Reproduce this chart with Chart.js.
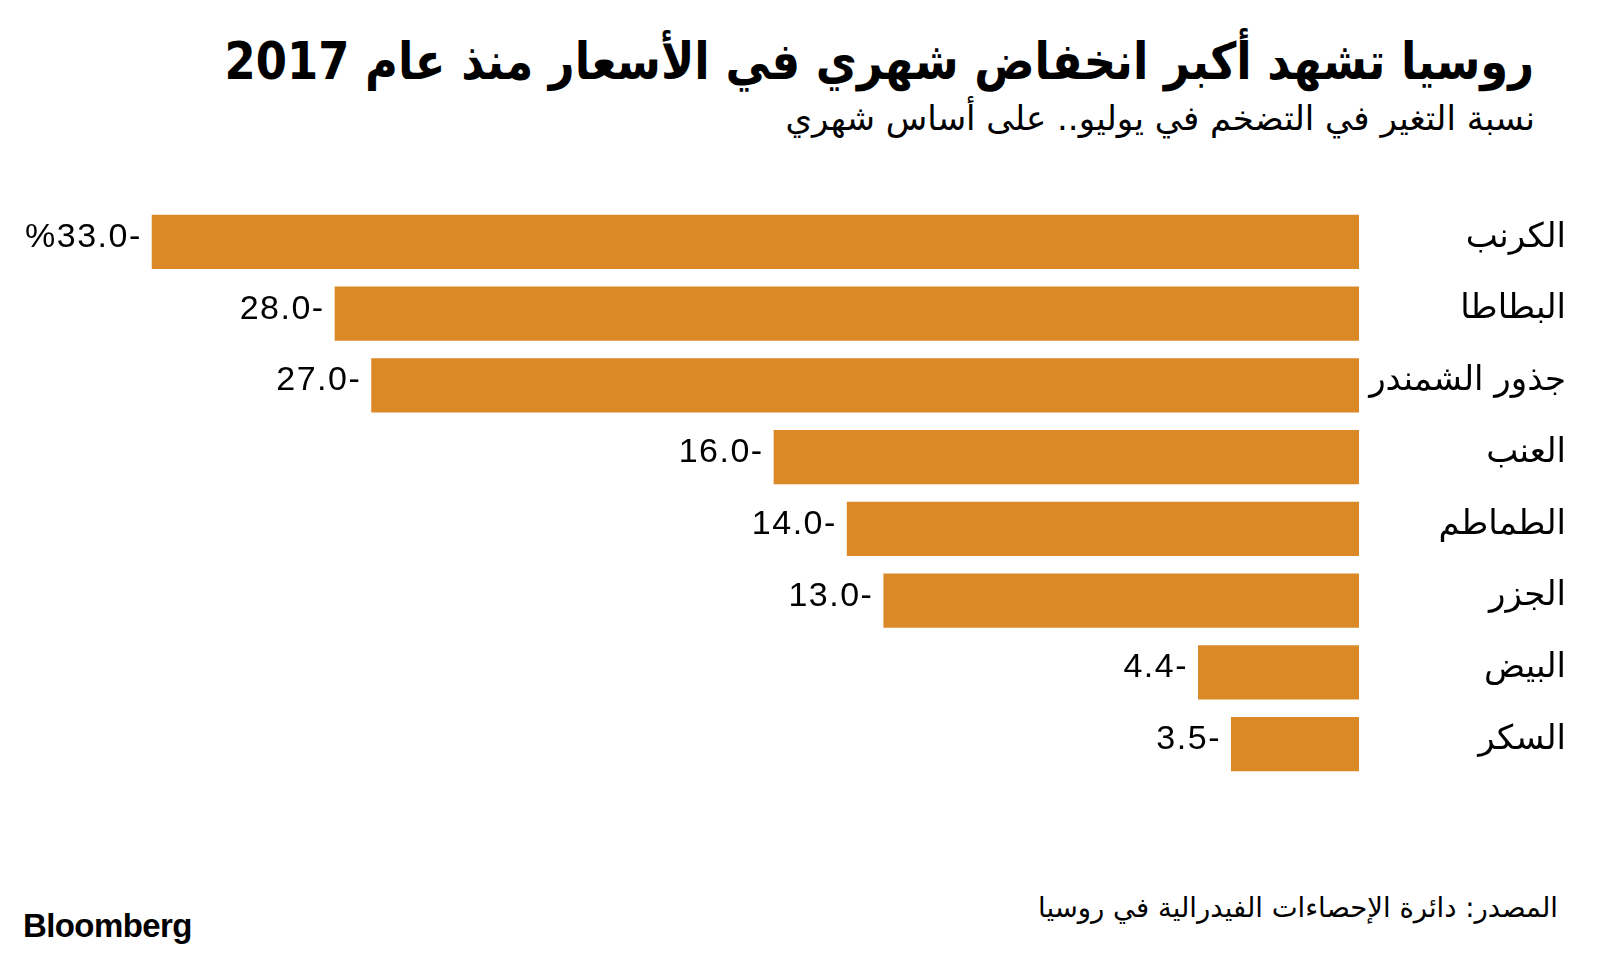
<!DOCTYPE html>
<html>
<head>
<meta charset="utf-8">
<script src="https://cdn.jsdelivr.net/npm/chart.js@4"></script>
<style>
  html, body { margin: 0; padding: 0; background: #fff; }
  body { width: 1600px; height: 954px; position: relative; overflow: hidden; }
  #chart { position: absolute; left: 0; top: 0; }
  .txt { position: absolute; white-space: nowrap; line-height: 1; color: #000; }
  #title { right: 66px; top: 32px; font: bold 51px "DejaVu Sans"; direction: rtl;
           transform: scaleX(0.88); transform-origin: right center; }
  #subtitle { right: 65px; top: 98px; font: 34px "DejaVu Sans"; direction: rtl; }
  #source { right: 42px; top: 891px; font: 27.5px "DejaVu Sans"; direction: rtl; }
  #logo { left: 23px; top: 907px; font: bold 33px "Liberation Sans"; letter-spacing: -0.6px; }
</style>
</head>
<body>
<div id="title" class="txt">روسيا تشهد أكبر انخفاض شهري في الأسعار منذ عام 2017</div>
<div id="subtitle" class="txt">نسبة التغير في التضخم في يوليو.. على أساس شهري</div>
<div id="source" class="txt">المصدر: دائرة الإحصاءات الفيدرالية في روسيا</div>
<div id="logo" class="txt">Bloomberg</div>
<canvas id="chart" width="1600" height="954"></canvas>
<script>
const categories = ['الكرنب', 'البطاطا', 'جذور الشمندر', 'العنب', 'الطماطم', 'الجزر', 'البيض', 'السكر'];
const values = [-33.0, -28.0, -27.0, -16.0, -14.0, -13.0, -4.4, -3.5];

// value labels drawn just left of each bar end, as in the original
const valueLabels = {
  id: 'valueLabels',
  afterDatasetsDraw(chart) {
    const ctx = chart.ctx;
    const meta = chart.getDatasetMeta(0);
    ctx.save();
    ctx.font = '34px "Liberation Sans"';
    ctx.letterSpacing = '1.5px';
    ctx.fillStyle = '#000';
    ctx.textAlign = 'right';
    ctx.textBaseline = 'alphabetic';
    meta.data.forEach((bar, i) => {
      let txt = Math.abs(values[i]).toFixed(1) + '-';
      if (i === 0) txt = '%' + txt;
      ctx.fillText(txt, bar.x - 10, bar.y + 5);
    });
    ctx.restore();
  }
};

new Chart(document.getElementById('chart'), {
  type: 'bar',
  data: {
    labels: categories,
    datasets: [{
      data: values,
      backgroundColor: '#DA8926',
      borderWidth: 0,
      barPercentage: 0.753,
      categoryPercentage: 1
    }]
  },
  options: {
    indexAxis: 'y',
    responsive: false,
    animation: false,
    layout: { padding: { left: 42, right: 34, top: 206, bottom: 174 } },
    plugins: { legend: { display: false }, tooltip: { enabled: false } },
    scales: {
      x: { display: false, min: -36, max: 0 },
      y: {
        position: 'right',
        grid: { display: false },
        border: { display: false },
        afterFit(scale) { scale.width = 207; },
        ticks: {
          crossAlign: 'far',
          labelOffset: -4,
          color: '#000',
          font: { family: 'DejaVu Sans', size: 34 }
        }
      }
    }
  },
  plugins: [valueLabels]
});
</script>
</body>
</html>
